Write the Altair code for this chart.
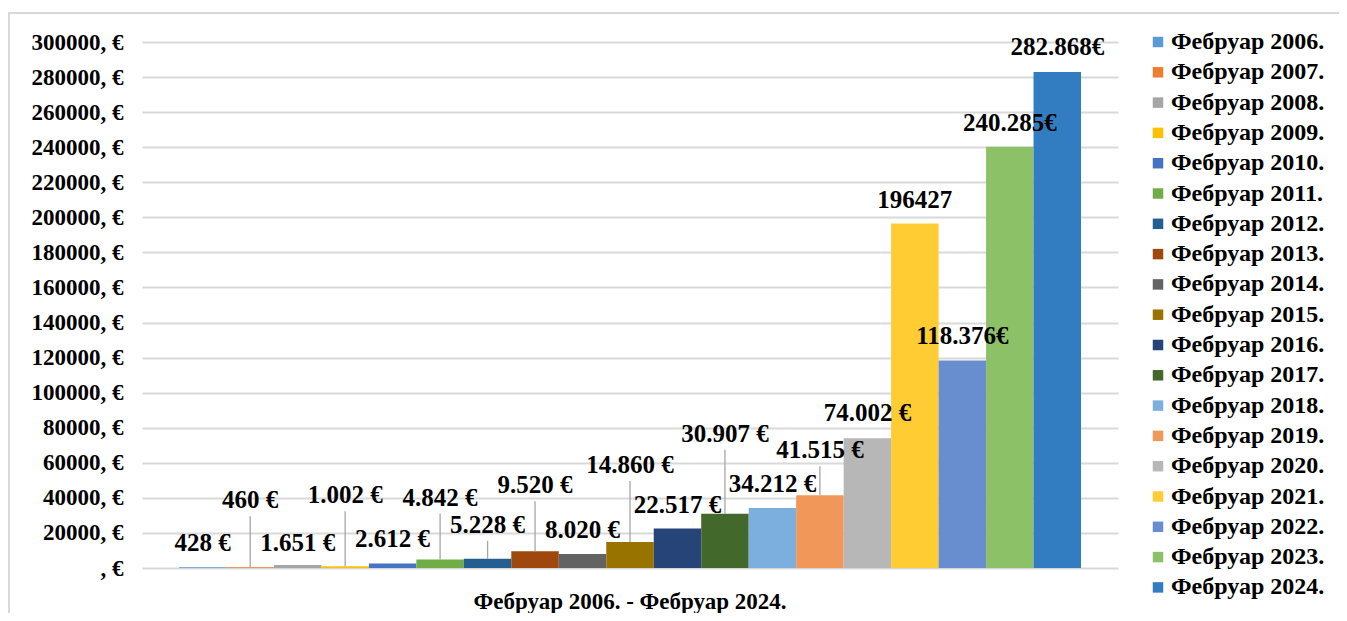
import altair as alt
import pandas as pd

# ---------------- data ----------------
period = "Фебруар 2006. - Фебруар 2024."
series = [f"Фебруар {y}." for y in range(2006, 2025)]
values = [428, 460, 1651, 1002, 2612, 4842, 5228, 9520, 8020, 14860,
          22517, 30907, 34212, 41515, 74002, 196427, 118376, 240285, 282868]
labels = ["428 €", "460 €", "1.651 €", "1.002 €", "2.612 €", "4.842 €", "5.228 €",
          "9.520 €", "8.020 €", "14.860 €", "22.517 €", "30.907 €", "34.212 €",
          "41.515 €", "74.002 €", "196427", "118.376€", "240.285€", "282.868€"]
y_ticks = list(range(0, 300001, 20000))

# ---------------- style / layout ----------------
colors = ["#5B9BD5", "#ED7D31", "#A5A5A5", "#FFC000", "#4472C4", "#70AD47",
          "#255E91", "#9E480E", "#636363", "#997300", "#264478", "#43682B",
          "#7CAFDD", "#F1975A", "#B7B7B7", "#FFCD33", "#698ED0", "#8CC168", "#327DC2"]
# vertical lift (px) of each data label above its bar, as placed in the original
label_lift_px = [24, 67, 22, 71, 24, 62, 34, 66, 24, 77, 24, 80, 24, 45, 25, 24, 24, 24, 25]
LEADER_GAP = 16

W, H = 976, 526
Y_MAX = 300000
K = Y_MAX / H
FONT = "Liberation Serif"

df = pd.DataFrame({
    "period": period,
    "series": series,
    "value": values,
    "label": labels,
    "lift": label_lift_px,
})
df["label_at"] = df["value"] + df["lift"] * K
df["line_top"] = df["value"] + (df["lift"] - LEADER_GAP) * K
df["has_line"] = df["lift"] > 30

x_axis = alt.Axis(labelAngle=0, labelFont=FONT, labelFontSize=23,
                  labelFontWeight="bold", labelColor="#000000",
                  labelPadding=22, labelLimit=0, ticks=False, domain=False)
x_scale = alt.Scale(paddingInner=0, paddingOuter=0.041)
xo_enc = alt.XOffset("series:N", sort=series,
                     scale=alt.Scale(paddingInner=0, paddingOuter=0))
y_scale = alt.Scale(domain=[0, Y_MAX], nice=False, zero=True)
y_axis = alt.Axis(values=y_ticks,
                  labelExpr="datum.value == 0 ? ', €' : datum.value + ', €'",
                  labelFont=FONT, labelFontSize=23, labelFontWeight="bold",
                  labelColor="#000000", labelPadding=19, ticks=False,
                  labelOverlap=False, labelBound=False,
                  domain=False, grid=True, gridColor="#D9D9D9", gridWidth=2)

base = alt.Chart(df)

bars = base.mark_bar(cornerRadius=0).encode(
    x=alt.X("period:N", title=None, scale=x_scale, axis=x_axis),
    xOffset=xo_enc,
    y=alt.Y("value:Q", title=None, scale=y_scale, axis=y_axis),
    color=alt.Color("series:N", sort=series,
                    scale=alt.Scale(domain=series, range=colors),
                    legend=alt.Legend(title=None, orient="none", legendX=1004,
                                      legendY=-12, symbolType="square",
                                      symbolSize=110, symbolStrokeWidth=0,
                                      labelFont=FONT, labelFontSize=24,
                                      labelFontWeight="bold", labelColor="#000000",
                                      labelOffset=1, rowPadding=6.3,
                                      labelLimit=0, symbolLimit=40)),
)

leaders = base.transform_filter("datum.has_line").mark_rule(
    color="#A6A6A6", strokeWidth=1.3
).encode(
    x=alt.X("period:N", title=None, scale=x_scale, axis=x_axis),
    xOffset=xo_enc,
    y=alt.Y("value:Q", title=None, scale=y_scale, axis=y_axis),
    y2="line_top:Q",
)

texts = base.mark_text(font=FONT, fontSize=25, fontWeight="bold",
                       color="#000000", baseline="middle", align="center").encode(
    x=alt.X("period:N", title=None, scale=x_scale, axis=x_axis),
    xOffset=xo_enc,
    y=alt.Y("label_at:Q", title=None, scale=y_scale, axis=y_axis),
    text="label:N",
)

frame = alt.Chart(alt.Data(values=[{"f": 1}])).mark_rect(
    fillOpacity=0, stroke="#D9D9D9", strokeWidth=2
).encode(
    x=alt.value(-133), x2=alt.value(W + 400),
    y=alt.value(-29), y2=alt.value(H + 200),
)

chart = alt.layer(frame, bars, leaders, texts).properties(
    width=W, height=H,
    background="#FFFFFF",
    autosize=alt.AutoSizeParams(type="none"),
    padding={"left": 134, "top": 34, "right": 221, "bottom": 45},
).configure_view(stroke=None).configure_axisY(labelOverlap=False)

chart.save("out.html", embed_options={"renderer": "svg", "actions": False})
